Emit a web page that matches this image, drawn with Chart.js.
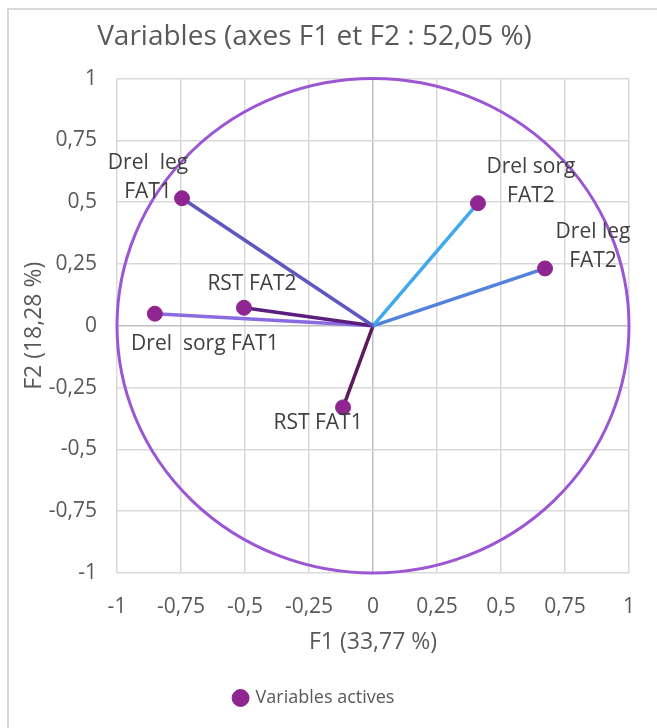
<!DOCTYPE html>
<html>
<head>
<meta charset="utf-8">
<script src="https://cdn.jsdelivr.net/npm/chart.js@4.4.1/dist/chart.umd.min.js"></script>
<style>
  html, body { margin: 0; padding: 0; background: #fff; overflow: hidden; }
  #wrap { position: relative; width: 657px; height: 728px; }
  #frame { position: absolute; left: 7px; top: 8px; width: 700px; height: 800px; border: 2px solid #D9D9D9; box-sizing: border-box; }
  canvas { position: absolute; left: 0; top: 0; }
</style>
</head>
<body>
<div id="wrap">
  <div id="frame"></div>
  <canvas id="pca" width="657" height="728"></canvas>
</div>
<script>
const varLabels = [
    ['Drel  leg', 'FAT1'],
    ['Drel sorg', 'FAT2'],
    ['Drel leg', 'FAT2'],
    ['RST FAT2'],
    ['Drel  sorg FAT1'],
    ['RST FAT1']
];
const f1Values = [-0.746, 0.41, 0.672, -0.504, -0.852, -0.117];
const f2Values = [0.516, 0.496, 0.232, 0.073, 0.049, -0.33];
const tickValues = [-1, -0.75, -0.5, -0.25, 0, 0.25, 0.5, 0.75, 1];
const tickLabels = ['-1', '-0,75', '-0,5', '-0,25', '0', '0,25', '0,5', '0,75', '1'];
const circleRadius = 1;

const chartTitle = 'Variables (axes F1 et F2 : 52,05 %)';
const xTitle = 'F1 (33,77 %)';
const yTitle = 'F2 (18,28 %)';
const seriesName = 'Variables actives';

// styling
const lineColors = ['#5E57C0', '#40A8EC', '#5282DC', '#5B1E7F', '#8A6CE0', '#5C1A5C'];
const labelOffsets = [[-34, -35], [53, -36], [48, -36], [8, -24], [50, 30], [-25, 16]];
const pointColor = '#8F2591';
const circleColor = '#9B57D3';
const textColor = '#595959';
const fontFamily = "'Open Sans', sans-serif";

const points = f1Values.map((x, i) => ({ x: x, y: f2Values[i] }));

const datasets = [{
    label: seriesName,
    data: points,
    backgroundColor: pointColor,
    borderColor: pointColor,
    pointRadius: 7.5,
    pointHoverRadius: 7.5,
    showLine: false,
    order: 0
}];
points.forEach((p, i) => {
    datasets.push({
        label: varLabels[i].join(' '),
        data: [{ x: 0, y: 0 }, p],
        borderColor: lineColors[i],
        borderWidth: 3.5,
        pointRadius: 0,
        showLine: true,
        order: 1
    });
});

const unitCircle = {
    id: 'unitCircle',
    beforeDatasetsDraw(chart) {
        const { ctx, scales: { x, y } } = chart;
        const cx = x.getPixelForValue(0);
        const cy = y.getPixelForValue(0);
        const rx = x.getPixelForValue(circleRadius) - cx;
        const ry = cy - y.getPixelForValue(circleRadius);
        ctx.save();
        ctx.beginPath();
        ctx.ellipse(cx, cy, rx, ry, 0, 0, Math.PI * 2);
        ctx.strokeStyle = circleColor;
        ctx.lineWidth = 3;
        ctx.stroke();
        ctx.restore();
    }
};

const pointLabels = {
    id: 'pointLabels',
    afterDatasetsDraw(chart) {
        const meta = chart.getDatasetMeta(0);
        const ctx = chart.ctx;
        ctx.save();
        ctx.font = '21px ' + fontFamily;
        ctx.fillStyle = '#404040';
        ctx.textAlign = 'center';
        ctx.textBaseline = 'middle';
        meta.data.forEach((pt, i) => {
            const [dx, dy] = labelOffsets[i];
            varLabels[i].forEach((line, j) => {
                ctx.fillText(line, pt.x + dx, pt.y + dy + j * 29);
            });
        });
        ctx.restore();
    }
};

const gridColor = ctx => (ctx.tick && ctx.tick.value === 0) ? '#BFBFBF' : '#D9D9D9';
const setTicks = scale => { scale.ticks = tickValues.map(v => ({ value: v })); };
const tickText = (value, index) => tickLabels[index];

new Chart(document.getElementById('pca'), {
    type: 'scatter',
    data: { datasets: datasets },
    plugins: [unitCircle, pointLabels],
    options: {
        responsive: false,
        animation: false,
        layout: { padding: { left: 0, right: 28, top: 0, bottom: 11 } },
        plugins: {
            title: {
                display: true,
                text: chartTitle,
                color: textColor,
                font: { family: fontFamily, size: 28, weight: 'normal' },
                padding: { top: 20, bottom: 25 }
            },
            legend: {
                position: 'bottom',
                labels: {
                    filter: item => item.datasetIndex === 0,
                    usePointStyle: true,
                    pointStyle: 'circle',
                    boxWidth: 12,
                    boxHeight: 12,
                    padding: 10,
                    color: textColor,
                    font: { family: fontFamily, size: 18 }
                }
            },
            tooltip: { enabled: false }
        },
        scales: {
            x: {
                type: 'linear',
                min: -1,
                max: 1,
                afterBuildTicks: setTicks,
                afterFit: scale => { scale.height = 106; },
                ticks: { callback: tickText, color: textColor, font: { family: fontFamily, size: 21 }, padding: 21 },
                grid: { color: gridColor, lineWidth: 1.5, drawTicks: false },
                border: { display: false },
                title: {
                    display: true,
                    text: xTitle,
                    color: textColor,
                    font: { family: fontFamily, size: 23 },
                    padding: { top: 0, bottom: 23 }
                }
            },
            y: {
                type: 'linear',
                min: -1,
                max: 1,
                afterBuildTicks: setTicks,
                afterFit: scale => { scale.width = 117; },
                ticks: { callback: tickText, color: textColor, font: { family: fontFamily, size: 21 }, padding: 20 },
                grid: { color: gridColor, lineWidth: 1.5, drawTicks: false },
                border: { display: false },
                title: {
                    display: true,
                    text: yTitle,
                    color: textColor,
                    font: { family: fontFamily, size: 23 },
                    padding: { top: 21, bottom: 0 }
                }
            }
        }
    }
});
</script>
</body>
</html>
